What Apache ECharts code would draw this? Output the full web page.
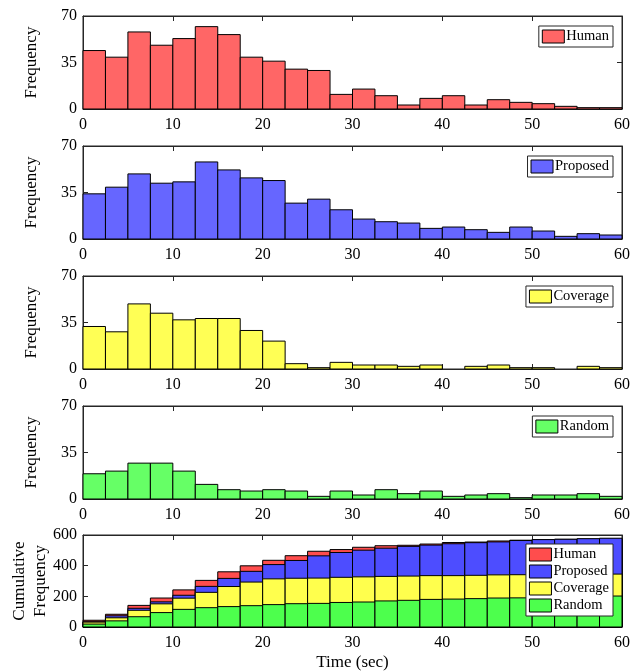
<!DOCTYPE html>
<html><head><meta charset="utf-8">
<script src="https://cdn.jsdelivr.net/npm/echarts@6/dist/echarts.min.js"></script>
<style>html,body{margin:0;padding:0;background:#fff}#c{width:641px;height:672px}</style>
</head><body><div id="c"></div>
<script>
const binEdges = [0,2.5,5,7.5,10,12.5,15,17.5,20,22.5,25,27.5,30,32.5,35,37.5,40,42.5,45,47.5,50,52.5,55,57.5,60];
const human    = [44,39,58,48,53,62,56,39,36,30,29,11,15,10,3,8,10,3,7,5,4,2,1,1];
const proposed = [34,39,49,42,43,58,52,46,44,27,30,22,15,13,12,8,9,7,5,9,6,2,4,3];
const coverage = [32,28,49,42,37,38,38,29,21,4,1,5,3,3,2,3,0,2,3,1,1,0,2,1];
const random   = [19,21,27,27,21,11,7,6,7,6,2,6,3,7,4,6,2,3,4,1,3,3,4,2];
const xTicks = [0,10,20,30,40,50,60];
const histYTicks = [0,35,70];
const cumYTicks = [0,200,400,600];
const names = ['Human','Proposed','Coverage','Random'];

const histColors = ['#ff6666','#6666ff','#ffff55','#66ff66'];
const cumColors  = ['#ff4d4d','#4d4dff','#ffff4d','#4dff4d'];
const FONT = '"Liberation Serif","Times New Roman",serif';
const AX = '#262626';

function cumsum(a){ const r=[]; let s=0; for(const v of a){ s+=v; r.push(s);} return r; }
function toData(vals){ return vals.map((v,i)=>[binEdges[i], binEdges[i+1], v]); }

function renderer(color){
  return function(params, api){
    const x0 = api.value(0), x1 = api.value(1), v = api.value(2);
    if (!v) return null;
    const p0 = api.coord([x0, v]);
    const p1 = api.coord([x1, 0]);
    return {type:'rect', shape:{x:p0[0], y:p0[1], width:p1[0]-p0[0], height:p1[1]-p0[1]},
      style:{fill:color, stroke:'#000', lineWidth:1}};
  };
}

const tops = [16,146,276,406,535];
const H = 93;
const grid=[], xAxis=[], yAxis=[], series=[], legend=[];
const hists = [human, proposed, coverage, random];

for (let g=0; g<5; g++){
  grid.push({left:83, right:19, top:tops[g], height:(g===4?92:H), show:true, borderColor:AX, borderWidth:1,
    backgroundColor:'transparent', containLabel:false, outerBoundsMode:'none'});
  const isCum = g===4;
  const common = {gridIndex:g, type:'value', min:0, max:60, interval:10,
    axisLine:{show:true, onZero:false, lineStyle:{color:AX, width:1}},
    axisTick:{show:true, inside:true, length:5, lineStyle:{color:AX}},
    splitLine:{show:false}};
  xAxis.push(Object.assign({}, common, {position:'bottom',
    axisLabel:{show:true, margin:8, fontFamily:FONT, fontSize:16, color:'#000'},
    name: isCum ? 'Time (sec)' : '', nameLocation:'middle', nameGap:27, nameMoveOverlap:false,
    nameTextStyle:{fontFamily:FONT, fontSize:17, color:'#000'}}));
  xAxis.push(Object.assign({}, common, {position:'top', axisLabel:{show:false}}));
  const ymax = isCum ? 600 : 70, yint = isCum ? 200 : 35;
  const ycommon = {gridIndex:g, type:'value', min:0, max:ymax, interval:yint,
    axisLine:{show:true, onZero:false, lineStyle:{color:AX, width:1}},
    axisTick:{show:true, inside:true, length:5, lineStyle:{color:AX}},
    splitLine:{show:false}};
  yAxis.push(Object.assign({}, ycommon, {position:'left',
    axisLabel:{show:true, margin:6, fontFamily:FONT, fontSize:16, color:'#000'},
    name: isCum ? 'Cumulative\nFrequency' : 'Frequency', nameLocation:'middle',
    nameGap: isCum ? 32 : 41, nameRotate:90, nameMoveOverlap:false,
    nameTextStyle:{fontFamily:FONT, fontSize:17, color:'#000', lineHeight:21}}));
  yAxis.push(Object.assign({}, ycommon, {position:'right', axisLabel:{show:false}}));

  if (!isCum){
    series.push({type:'custom', name:names[g], xAxisIndex:2*g, yAxisIndex:2*g,
      renderItem:renderer(histColors[g]), encode:{x:[0,1], y:2},
      itemStyle:{color:histColors[g]}, data:toData(hists[g])});
    legend.push({top:tops[g]+10, right:28, orient:'vertical', selectedMode:false, z:20,
      data:[{name:names[g], itemStyle:{color:histColors[g], borderColor:'#000', borderWidth:1}}],
      backgroundColor:'#fff', borderColor:AX, borderWidth:1, padding:[3,4,3,3],
      itemWidth:22, itemHeight:13, icon:'rect',
      textStyle:{fontFamily:FONT, fontSize:14.5, color:'#000', lineHeight:13, padding:[0,0,0,-3]}});
  }
}
for (let k=0; k<4; k++){
  series.push({type:'custom', name:names[k]+' ', xAxisIndex:8, yAxisIndex:8,
    renderItem:renderer(cumColors[k]), encode:{x:[0,1], y:2},
    itemStyle:{color:cumColors[k]}, data:toData(cumsum(hists[k]))});
}
legend.push({top:544, right:28, orient:'vertical', selectedMode:false, z:20,
  data:names.map((n,k)=>({name:n+' ', itemStyle:{color:cumColors[k], borderColor:'#000', borderWidth:1}})),
  formatter: n=>n.trim(),
  backgroundColor:'#fff', borderColor:AX, borderWidth:1, padding:[3,4,3,3],
  itemWidth:22, itemHeight:13, itemGap:2, icon:'rect',
  textStyle:{fontFamily:FONT, fontSize:14.5, color:'#000', lineHeight:13, padding:[0,0,0,-3]}});

const chart = echarts.init(document.getElementById('c'), null, {renderer:'canvas'});
chart.setOption({animation:false, backgroundColor:'#fff', grid, xAxis, yAxis, series, legend});
</script></body></html>
